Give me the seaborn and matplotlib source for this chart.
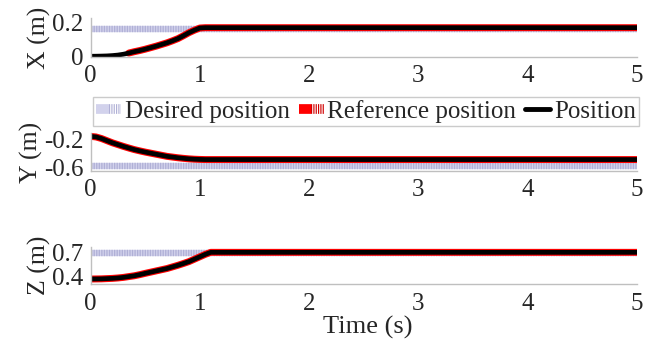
import matplotlib
matplotlib.use("Agg")
import matplotlib.pyplot as plt
from matplotlib.lines import Line2D
from matplotlib.legend_handler import HandlerTuple
import seaborn as sns

sns.set_style("white")
plt.rcParams["font.family"] = ["Liberation Serif", "DejaVu Serif"]
plt.rcParams["axes.unicode_minus"] = False

# time samples (s)
t = [0, 0.05, 0.1, 0.15, 0.2, 0.25, 0.3, 0.35, 0.4, 0.45, 0.5, 0.55,
     0.6, 0.65, 0.7, 0.75, 0.8, 0.85, 0.9, 0.95, 1.0, 1.05, 1.1, 5]
t_ref_x = [0.35, 0.4, 0.45, 0.5, 0.55, 0.6, 0.65, 0.7, 0.75, 0.8, 0.85,
           0.9, 0.95, 1.0, 1.05, 1.1, 5]
t_des = [0, 5]

# X (m)
x_pos = [0, 0.0003, 0.001, 0.002, 0.004, 0.007, 0.012, 0.019, 0.027, 0.034, 0.042, 0.051,
         0.06, 0.07, 0.08, 0.092, 0.105, 0.122, 0.14, 0.155, 0.168, 0.17, 0.17, 0.17]
x_ref = [0.019, 0.027, 0.034, 0.042, 0.051, 0.06, 0.07, 0.08, 0.092, 0.105, 0.122,
         0.14, 0.155, 0.168, 0.17, 0.17, 0.17]
x_des = [0.16, 0.16]

# Y (m)
y_pos = [-0.16, -0.168, -0.19, -0.22, -0.25, -0.275, -0.30, -0.323, -0.345, -0.363, -0.38, -0.395,
         -0.41, -0.425, -0.44, -0.45, -0.46, -0.468, -0.475, -0.48, -0.483, -0.485, -0.485, -0.485]
y_des = [-0.58, -0.58]

# Z (m)
z_pos = [0.37, 0.371, 0.372, 0.375, 0.378, 0.383, 0.39, 0.40, 0.41, 0.424, 0.44, 0.455,
         0.47, 0.485, 0.50, 0.52, 0.54, 0.562, 0.585, 0.615, 0.645, 0.675, 0.70, 0.70]
z_des = [0.695, 0.695]

panels = [
    ("X (m)", t_ref_x, x_ref, x_pos, x_des, (-0.004, 0.228), [0, 0.2], ["0", "0.2"]),
    ("Y (m)", t, y_pos, y_pos, y_des, (-0.647, -0.115), [-0.6, -0.2], ["-0.6", "-0.2"]),
    ("Z (m)", t, z_pos, z_pos, z_des, (0.305, 0.77), [0.4, 0.7], ["0.4", "0.7"]),
]

DES_LIGHT = "#d2d2ec"
DES_DARK = "#b0b0d6"
GRID = "#bfbfbf"

fig = plt.figure(figsize=(6.56, 3.45), dpi=100)
rects = [
    [0.138, 0.835, 0.833, 0.113],
    [0.138, 0.504, 0.833, 0.110],
    [0.138, 0.176, 0.833, 0.109],
]

for rect, (lab, tr, ref, pos, des, ylim, yt, ytl) in zip(rects, panels):
    ax = fig.add_axes(rect)
    sns.lineplot(x=t_des, y=des, ax=ax, color=DES_LIGHT, lw=4.6, errorbar=None)
    sns.lineplot(x=t_des, y=des, ax=ax, color=DES_DARK, lw=4.6, errorbar=None,
                 linestyle=(0, (0.2, 0.2)), dash_capstyle="butt")
    sns.lineplot(x=tr, y=ref, ax=ax, color="#ff0000", lw=5.0, errorbar=None)
    sns.lineplot(x=t, y=pos, ax=ax, color="black", lw=3.4, errorbar=None)
    ax.set_xlim(0, 5)
    ax.set_ylim(*ylim)
    ax.set_xticks([0, 1, 2, 3, 4, 5])
    ax.set_xticklabels(["0", "1", "2", "3", "4", "5"])
    ax.set_yticks(yt)
    ax.set_yticklabels(ytl)
    ax.set_xlabel("")
    ax.set_ylabel(lab, fontsize=18.5, labelpad=1)
    for s in ["top", "right"]:
        ax.spines[s].set_visible(False)
    for s in ["left", "bottom"]:
        ax.spines[s].set_color(GRID)
        ax.spines[s].set_linewidth(1.0)
    ax.tick_params(axis="both", direction="out", length=4, width=1.0, color=GRID,
                   labelsize=18, pad=1)
    ax.tick_params(axis="x", pad=2)

fig.text(0.56, 0.05, "Time (s)", ha="center", va="center", fontsize=19)

h_des = (Line2D([], [], color=DES_LIGHT, lw=7, solid_capstyle="butt"),
         Line2D([], [], color=DES_DARK, lw=7, linestyle=(0, (0.12, 0.12)), dash_capstyle="butt"))
h_ref = (Line2D([], [], color="#ff0000", lw=7, solid_capstyle="butt"),
         Line2D([], [], color="#d00000", lw=7, linestyle=(0, (0.12, 0.12)), dash_capstyle="butt"))
h_pos = Line2D([], [], color="black", lw=3.5)
leg = fig.legend([h_des, h_ref, h_pos], ["Desired position", "Reference position", "Position"],
                 handler_map={tuple: HandlerTuple(ndivide=None, pad=0)},
                 loc="center", bbox_to_anchor=(0.558, 0.678), ncol=3, fontsize=18,
                 frameon=True, fancybox=False, edgecolor=GRID, handlelength=1.0,
                 handletextpad=0.15, columnspacing=0.35, borderpad=0.12, borderaxespad=0)
leg.get_frame().set_linewidth(1.0)

fig.savefig("out.png", dpi=100)
